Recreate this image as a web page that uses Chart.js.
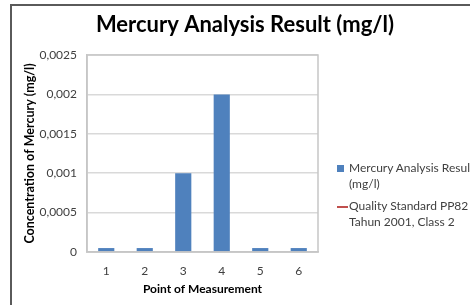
<!DOCTYPE html>
<html>
<head>
<meta charset="utf-8">
<script src="https://cdn.jsdelivr.net/npm/chart.js@4/dist/chart.umd.min.js"></script>
<style>
  html, body { margin: 0; padding: 0; background: #fff; overflow: hidden; width: 470px; height: 305px; }
  #wrap { position: relative; width: 470px; height: 305px; overflow: hidden; }
  #frame { position: absolute; left: 10px; top: 4px; width: 470px; height: 310px; border-top: 2px solid #5a5a5a; border-left: 2px solid #5a5a5a; box-sizing: border-box; pointer-events: none; }
  canvas { position: absolute; left: 0; top: 0; }
  #legend { position: absolute; left: 337px; top: 160px; width: 200px; font-family: Lato, "Open Sans", sans-serif; font-size: 12px; color: #404040; line-height: 16px; }
  .item { position: relative; padding-left: 12px; margin-bottom: 6px; white-space: normal; width: 128px; }
  .sw { position: absolute; left: 0; }
</style>
</head>
<body>
<div id="wrap">
  <canvas id="c" width="470" height="305"></canvas>
  <div id="frame"></div>
  <div id="legend"></div>
</div>
<script>
const chartTitle = "Mercury Analysis Result (mg/l)";
const xTitle = "Point of Measurement";
const yTitle = "Concentration of Mercury (mg/l)";
const categories = ["1", "2", "3", "4", "5", "6"];
const mercuryLabel = "Mercury Analysis Result (mg/l)";
const mercuryValues = [0.00005, 0.00005, 0.001, 0.002, 0.00005, 0.00005];
const standardLabel = "Quality Standard PP82 Tahun 2001, Class 2";
const standardValues = [null, null, null, null, null, null];
const yMin = 0, yMax = 0.0025, yStep = 0.0005;

const barColor = "#4f81bd";
const lineColor = "#c0504d";
const fontFam = "Lato, 'Open Sans', sans-serif";

const plotBorder = {
  id: "plotBorder",
  afterDraw(chart) {
    const a = chart.chartArea, ctx = chart.ctx;
    ctx.save();
    ctx.strokeStyle = "#c6c6c6";
    ctx.lineWidth = 1.5;
    ctx.strokeRect(a.left, a.top, a.right - a.left, a.bottom - a.top);
    ctx.restore();
  }
};

const centeredTitle = {
  id: "centeredTitle",
  afterDraw(chart) {
    const ctx = chart.ctx;
    ctx.save();
    ctx.font = "bold 22px " + fontFam;
    ctx.fillStyle = "#000";
    ctx.textAlign = "center";
    ctx.textBaseline = "middle";
    ctx.fillText(chartTitle, 245, 25);
    ctx.restore();
  }
};

const chart = new Chart(document.getElementById("c"), {
  type: "bar",
  data: {
    labels: categories,
    datasets: [
      { type: "bar", label: mercuryLabel, data: mercuryValues, backgroundColor: barColor, barPercentage: 0.42, categoryPercentage: 1.0, order: 2 },
      { type: "line", label: standardLabel, data: standardValues, borderColor: lineColor, backgroundColor: lineColor, pointRadius: 0, borderWidth: 2, order: 1 }
    ]
  },
  options: {
    responsive: false,
    animation: false,
    devicePixelRatio: 1,
    layout: { padding: { left: 18, right: 152, top: 55, bottom: 5 } },
    plugins: {
      legend: { display: false },
      tooltip: { enabled: false },
      title: { display: false }
    },
    scales: {
      x: {
        grid: { display: false },
        border: { display: true, color: "#c6c6c6", width: 1.5 },
        ticks: { color: "#404040", font: { family: fontFam, size: 12 }, padding: 4 },
        title: { display: true, text: xTitle, color: "#000", font: { family: fontFam, size: 12, weight: "bold" }, padding: { top: 3 } },
        afterFit(s) { s.height = 48; }
      },
      y: {
        min: yMin, max: yMax,
        grid: { color: "#d9d9d9", lineWidth: 1.5, drawTicks: false },
        border: { display: true, color: "#c6c6c6", width: 1.5 },
        ticks: {
          stepSize: yStep, color: "#404040", font: { family: fontFam, size: 12 }, padding: 10,
          callback: v => String(Number(v.toFixed(5))).replace(".", ",")
        },
        title: { display: true, text: yTitle, color: "#000", font: { family: fontFam, size: 12.5, weight: "bold" }, padding: { bottom: 2 } },
        afterFit(s) { s.width = 69; }
      }
    }
  },
  plugins: [plotBorder, centeredTitle]
});

const leg = document.getElementById("legend");
chart.data.datasets.forEach(ds => {
  const d = document.createElement("div");
  d.className = "item";
  const sw = document.createElement("span");
  sw.className = "sw";
  if (ds.type === "bar") {
    sw.style.cssText = "left:0;top:5px;width:7px;height:7px;background:" + ds.backgroundColor;
  } else {
    sw.style.cssText = "left:0;top:8px;width:11px;height:2px;background:" + ds.borderColor;
  }
  d.appendChild(sw);
  d.appendChild(document.createTextNode(ds.label));
  leg.appendChild(d);
});
</script>
</body>
</html>
